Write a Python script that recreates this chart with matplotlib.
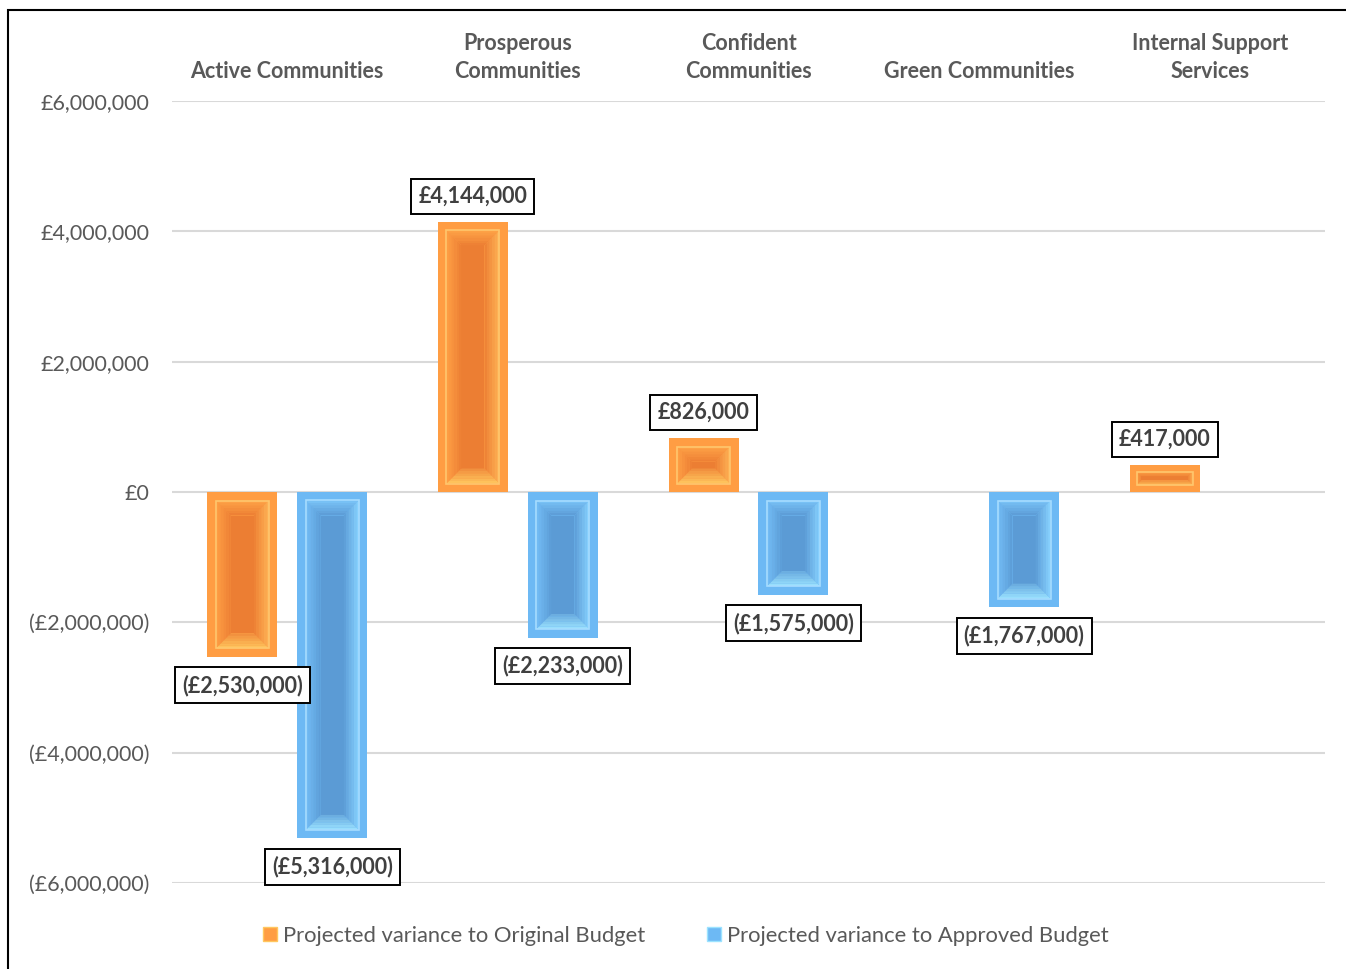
import matplotlib
matplotlib.use("Agg")
import matplotlib.pyplot as plt
from matplotlib.patches import Polygon, Rectangle
from matplotlib.ticker import FuncFormatter
from matplotlib.lines import Line2D
from matplotlib.colors import to_rgb
import numpy as np

categories = ["Active Communities", "Prosperous\nCommunities", "Confident\nCommunities",
              "Green Communities", "Internal Support\nServices"]
original = [-2530000, 4144000, 826000, None, 417000]
approved = [-5316000, -2233000, -1575000, -1767000, None]
series_names = ["Projected variance to Original Budget", "Projected variance to Approved Budget"]
yticks = [-6000000, -4000000, -2000000, 0, 2000000, 4000000, 6000000]

FONT = ["Lato", "DejaVu Sans"]
plt.rcParams["font.family"] = FONT
GRAY = "#595959"
FS = 15.5

W, H = 1346, 969
fig = plt.figure(figsize=(W / 100, H / 100), dpi=100)
ax = fig.add_axes([172 / W, 1 - 883 / H, (1325 - 172) / W, (883 - 101) / H])

x = np.arange(len(categories))
bw = 0.3036
off = 0.195

styles = [
    dict(outer="#FF9D43", line="#FFC76E", top="#FFA448", left="#FFA046", right="#FFB457",
         bottom="#FFC75F", face="#EC7E33"),
    dict(outer="#6DB9F4", line="#A6DCFF", top="#7BC4F8", left="#74BEF6", right="#8AD4FF",
         bottom="#9CE3FF", face="#5B9BD5"),
]

ax.set_xlim(-0.5, len(categories) - 0.5)
ax.set_ylim(-6000000, 6000000)

def fmt(v, pos=None):
    if v < 0:
        return "(£{:,.0f})".format(-v)
    return "£{:,.0f}".format(v)

ax.set_yticks(yticks)
ax.yaxis.set_major_formatter(FuncFormatter(fmt))
ax.tick_params(axis="y", length=0, pad=16.5, labelsize=FS, labelcolor=GRAY)
ax.grid(axis="y", color="#D9D9D9", lw=1.5, zorder=0)
ax.set_axisbelow(True)
for s in ax.spines.values():
    s.set_visible(False)

ax.set_xticks(x)
ax.set_xticklabels(categories, fontweight="bold", color=GRAY, fontsize=FS, linespacing=1.38)
ax.xaxis.tick_top()
ax.tick_params(axis="x", length=0, pad=14)

# pixel -> data scale
px_x = 1.0 / ((1325 - 172) / len(categories))
px_y = 12000000 / (883 - 101)

def mix(c1, c2, t):
    a, b = np.array(to_rgb(c1)), np.array(to_rgb(c2))
    return tuple(a + (b - a) * t)

def bevel(bar, st, n=6):
    x0 = bar.get_x(); w = bar.get_width()
    y0 = bar.get_y(); h = bar.get_height()
    if h < 0:
        y0, h = y0 + h, -h
    x1, y1 = x0 + w, y0 + h
    hp = h / px_y
    o = min(8.5, hp * 0.25)
    b = min(15, max(hp * 0.5 - o - 2, 1))
    cy = (y0 + y1) / 2
    kw = dict(lw=0, zorder=3)
    # face
    jx0, jx1 = x0 + (o + b) * px_x, x1 - (o + b) * px_x
    jy0, jy1 = min(y0 + (o + b) * px_y, cy), max(y1 - (o + b) * px_y, cy)
    ax.add_patch(Rectangle((jx0, jy0), jx1 - jx0, jy1 - jy0, fc=st["face"], **kw))
    for k in range(n):
        d0 = o + b * k / n
        d1 = o + b * (k + 1) / n
        t = (k + 0.5) / n
        ax0, ax1 = x0 + d0 * px_x, x1 - d0 * px_x
        bx0, bx1 = x0 + d1 * px_x, x1 - d1 * px_x
        ay0, ay1 = min(y0 + d0 * px_y, cy), max(y1 - d0 * px_y, cy)
        by0, by1 = min(y0 + d1 * px_y, cy), max(y1 - d1 * px_y, cy)
        ax.add_patch(Polygon([(ax0, ay1), (ax1, ay1), (bx1, by1), (bx0, by1)],
                             fc=mix(st["top"], st["face"], t), **kw))
        ax.add_patch(Polygon([(ax0, ay0), (ax1, ay0), (bx1, by0), (bx0, by0)],
                             fc=mix(st["bottom"], st["face"], t * 0.8), **kw))
        ax.add_patch(Polygon([(ax0, ay0), (ax0, ay1), (bx0, by1), (bx0, by0)],
                             fc=mix(st["left"], st["face"], t), **kw))
        ax.add_patch(Polygon([(ax1, ay0), (ax1, ay1), (bx1, by1), (bx1, by0)],
                             fc=mix(st["right"], st["face"], t), **kw))
    ix0, ix1 = x0 + o * px_x, x1 - o * px_x
    iy0, iy1 = y0 + o * px_y, y1 - o * px_y
    ax.add_patch(Rectangle((ix0, iy0), ix1 - ix0, iy1 - iy0, fc="none", ec=st["line"], lw=1.2, zorder=4))

for i, (vals, st) in enumerate(zip([original, approved], styles)):
    xs = [xi + (-off if i == 0 else off) for xi, v in zip(x, vals) if v is not None]
    vs = [v for v in vals if v is not None]
    bars = ax.bar(xs, vs, width=bw, color=st["outer"], zorder=2, label=series_names[i])
    for bar, v in zip(bars, vs):
        bevel(bar, st)
        cx = bar.get_x() + bar.get_width() / 2
        dy = 18.5 if v > 0 else -20.5
        ax.annotate(fmt(v), xy=(cx, v), xytext=(0, dy), textcoords="offset points",
                    ha="center", va="center", fontsize=FS, fontweight="bold", color="#404040",
                    bbox=dict(boxstyle="square,pad=0.33", fc="white", ec="black", lw=1.4),
                    zorder=6)

# legend
handles = [Line2D([], [], marker="s", ls="none", ms=9.5, mfc=styles[0]["outer"], mec=styles[0]["bottom"]),
           Line2D([], [], marker="s", ls="none", ms=9.5, mfc=styles[1]["outer"], mec=styles[1]["bottom"])]
leg = fig.legend(handles, series_names, loc="center", bbox_to_anchor=(686 / W, 1 - 936 / H),
                 ncol=2, frameon=False, fontsize=FS + 0.3, handletextpad=0.3, columnspacing=2.8,
                 handlelength=0.6)
for t in leg.get_texts():
    t.set_color(GRAY)

# outer chart border
fig.add_artist(Rectangle((8 / W, -0.1), 1.2, 1 - 10 / H + 0.1, transform=fig.transFigure,
                         fc="none", ec="black", lw=1.5))

fig.savefig("out.png", dpi=100)
